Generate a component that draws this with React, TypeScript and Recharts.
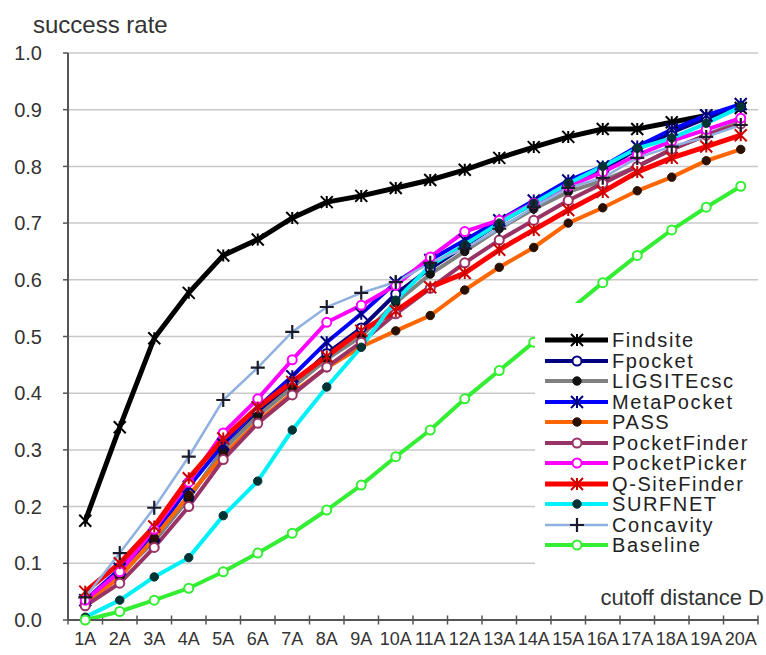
import React from 'react';
import { LineChart, Line, XAxis, YAxis, CartesianGrid, ReferenceLine } from 'recharts';

const FONT = '"Liberation Sans", Arial, sans-serif';

const categories = [
  '1A', '2A', '3A', '4A', '5A', '6A', '7A', '8A', '9A', '10A',
  '11A', '12A', '13A', '14A', '15A', '16A', '17A', '18A', '19A', '20A',
];

const findsite = [0.175, 0.34, 0.497, 0.577, 0.643, 0.671, 0.709, 0.737, 0.748, 0.762, 0.776, 0.794, 0.815, 0.834, 0.852, 0.866, 0.866, 0.878, 0.89, 0.903];
const fpocket = [0.03, 0.08, 0.14, 0.215, 0.3, 0.365, 0.415, 0.47, 0.515, 0.575, 0.62, 0.66, 0.7, 0.735, 0.77, 0.795, 0.83, 0.86, 0.885, 0.905];
const ligsite = [0.03, 0.08, 0.14, 0.215, 0.3, 0.36, 0.41, 0.46, 0.5, 0.56, 0.61, 0.65, 0.69, 0.725, 0.755, 0.775, 0.8, 0.83, 0.855, 0.88];
const metaPocket = [0.035, 0.09, 0.15, 0.235, 0.31, 0.375, 0.43, 0.49, 0.54, 0.595, 0.635, 0.67, 0.705, 0.74, 0.775, 0.8, 0.835, 0.865, 0.89, 0.91];
const pass = [0.03, 0.075, 0.145, 0.22, 0.29, 0.35, 0.4, 0.445, 0.482, 0.51, 0.537, 0.582, 0.622, 0.657, 0.7, 0.727, 0.757, 0.781, 0.81, 0.83];
const pocketFinder = [0.025, 0.065, 0.128, 0.2, 0.283, 0.347, 0.397, 0.446, 0.49, 0.54, 0.585, 0.63, 0.67, 0.705, 0.74, 0.77, 0.8, 0.83, 0.855, 0.875];
const pocketPicker = [0.035, 0.085, 0.16, 0.243, 0.33, 0.39, 0.459, 0.525, 0.555, 0.59, 0.64, 0.685, 0.705, 0.735, 0.765, 0.79, 0.82, 0.845, 0.865, 0.885];
const qSiteFinder = [0.05, 0.1, 0.165, 0.25, 0.32, 0.375, 0.42, 0.465, 0.51, 0.545, 0.587, 0.612, 0.653, 0.688, 0.723, 0.755, 0.79, 0.815, 0.835, 0.855];
const surfnet = [0.005, 0.035, 0.076, 0.11, 0.184, 0.245, 0.335, 0.411, 0.481, 0.564, 0.625, 0.662, 0.7, 0.735, 0.77, 0.8, 0.832, 0.85, 0.876, 0.905];
const concavity = [0.04, 0.118, 0.198, 0.288, 0.388, 0.445, 0.508, 0.552, 0.577, 0.596, 0.63, 0.655, 0.69, 0.728, 0.762, 0.78, 0.815, 0.835, 0.852, 0.873];
const baseline = [0, 0.015, 0.035, 0.056, 0.085, 0.118, 0.153, 0.194, 0.238, 0.288, 0.335, 0.39, 0.44, 0.49, 0.545, 0.595, 0.643, 0.688, 0.728, 0.765];

const yTicks = [0, 0.1, 0.2, 0.3, 0.4, 0.5, 0.6, 0.7, 0.8, 0.9, 1.0];

type MarkerKind = 'star' | 'open' | 'dot' | 'plus';

interface Series {
  name: string;
  values: number[];
  color: string;
  markerColor: string;
  marker: MarkerKind;
  width: number;
}

const series: Series[] = [
  { name: 'Findsite', values: findsite, color: '#000000', markerColor: '#000000', marker: 'star', width: 5 },
  { name: 'Fpocket', values: fpocket, color: '#000080', markerColor: '#000080', marker: 'open', width: 4 },
  { name: 'LIGSITEcsc', values: ligsite, color: '#808080', markerColor: '#111111', marker: 'dot', width: 4 },
  { name: 'MetaPocket', values: metaPocket, color: '#0000ff', markerColor: '#000080', marker: 'star', width: 4 },
  { name: 'PASS', values: pass, color: '#ff6600', markerColor: '#2a1000', marker: 'dot', width: 4 },
  { name: 'PocketFinder', values: pocketFinder, color: '#993366', markerColor: '#993366', marker: 'open', width: 4 },
  { name: 'PocketPicker', values: pocketPicker, color: '#ff00ff', markerColor: '#ff00ff', marker: 'open', width: 4 },
  { name: 'Q-SiteFinder', values: qSiteFinder, color: '#ff0000', markerColor: '#cc0000', marker: 'star', width: 5 },
  { name: 'SURFNET', values: surfnet, color: '#00f0f8', markerColor: '#003333', marker: 'dot', width: 4 },
  { name: 'Concavity', values: concavity, color: '#8fb0e0', markerColor: '#1a1a2a', marker: 'plus', width: 2.5 },
  { name: 'Baseline', values: baseline, color: '#33ee33', markerColor: '#33ee33', marker: 'open', width: 4 },
];

const data = categories.map((label, i) => {
  const row: Record<string, number | string> = { x: i + 1, label };
  series.forEach((s) => {
    row[s.name] = s.values[i];
  });
  return row;
});

// boundaries between categories, where the x axis carries its tick marks
const tickEdges = categories.map((_, i) => i + 0.5).concat(categories.length + 0.5);

function Marker({ cx, cy, kind, color }: { cx: number; cy: number; kind: MarkerKind; color: string }) {
  if (cx == null || cy == null) return null;
  if (kind === 'open') {
    return <circle cx={cx} cy={cy} r={4.5} fill="#ffffff" stroke={color} strokeWidth={2} />;
  }
  if (kind === 'dot') {
    return <circle cx={cx} cy={cy} r={4.2} fill={color} stroke={color} strokeWidth={1} />;
  }
  if (kind === 'plus') {
    return (
      <path
        d={`M${cx - 7},${cy}H${cx + 7}M${cx},${cy - 7}V${cy + 7}`}
        stroke={color}
        strokeWidth={2.2}
        fill="none"
      />
    );
  }
  return (
    <path
      d={`M${cx - 6},${cy - 6}L${cx + 6},${cy + 6}M${cx - 6},${cy + 6}L${cx + 6},${cy - 6}M${cx},${cy - 6}V${cy + 6}`}
      stroke={color}
      strokeWidth={2}
      fill="none"
    />
  );
}

function LegendBox() {
  return (
    <div
      style={{
        position: 'absolute',
        left: 535,
        top: 303,
        width: 231,
        height: 262,
        background: '#ffffff',
        paddingTop: 27,
        boxSizing: 'border-box',
        fontFamily: FONT,
      }}
    >
      {series.map((s) => (
        <div key={s.name} style={{ display: 'flex', alignItems: 'center', height: 20.5 }}>
          <svg width={77} height={20} style={{ flex: 'none' }}>
            <line x1={10} x2={73} y1={10} y2={10} stroke={s.color} strokeWidth={s.width} />
            <Marker cx={42} cy={10} kind={s.marker} color={s.markerColor} />
          </svg>
          <span
            style={{
              fontSize: 20,
              letterSpacing: 1.6,
              color: '#222222',
              lineHeight: '20px',
              whiteSpace: 'nowrap',
            }}
          >
            {s.name}
          </span>
        </div>
      ))}
    </div>
  );
}

export default function App() {
  return (
    <div style={{ position: 'absolute', left: 0, top: 0, width: 766, height: 655, background: '#ffffff' }}>
      <LineChart
        width={766}
        height={655}
        data={data}
        margin={{ top: 53, right: 8, bottom: 0, left: 0 }}
        style={{ fontFamily: FONT }}
      >
        <CartesianGrid vertical={false} stroke="#c8c8c8" strokeWidth={1.5} />
        <XAxis
          dataKey="x"
          type="number"
          domain={[0.5, 20.5]}
          ticks={categories.map((_, i) => i + 1)}
          interval={0}
          tickFormatter={(v: number) => categories[v - 1]}
          height={35}
          tickLine={false}
          tickSize={0}
          tickMargin={12}
          axisLine={{ stroke: '#555555', strokeWidth: 2 }}
          tick={{ fontSize: 18, fill: '#333333', fontFamily: FONT }}
        />
        <YAxis
          domain={[0, 1]}
          ticks={yTicks}
          interval={0}
          tickFormatter={(v: number) => v.toFixed(1)}
          width={68}
          tickSize={5}
          tickMargin={21}
          tickLine={{ stroke: '#555555', strokeWidth: 1.5 }}
          axisLine={{ stroke: '#555555', strokeWidth: 2 }}
          tick={{ fontSize: 20, fill: '#333333', fontFamily: FONT }}
        />
        {tickEdges.map((e) => (
          <ReferenceLine
            key={`edge-${e}`}
            segment={[{ x: e, y: -0.008 }, { x: e, y: 0.008 }]}
            stroke="#555555"
            strokeWidth={1.5}
            ifOverflow="visible"
          />
        ))}
        {series.map((s) => (
          <Line
            key={s.name}
            dataKey={s.name}
            stroke={s.color}
            strokeWidth={s.width}
            isAnimationActive={false}
            dot={(p: any) => (
              <Marker key={`${s.name}-${p.index}`} cx={p.cx} cy={p.cy} kind={s.marker} color={s.markerColor} />
            )}
            activeDot={false}
          />
        ))}
      </LineChart>
      <LegendBox />
      <svg
        width={766}
        height={655}
        style={{ position: 'absolute', left: 0, top: 0, pointerEvents: 'none' }}
      >
        <text x={33} y={33} fontSize={24} fill="#333333" fontFamily={FONT}>
          success rate
        </text>
        <text x={764} y={605} fontSize={22} fill="#333333" fontFamily={FONT} textAnchor="end">
          cutoff distance D
        </text>
      </svg>
    </div>
  );
}
